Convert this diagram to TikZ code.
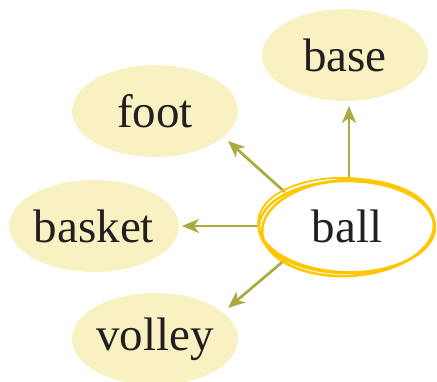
\documentclass[tikz,border=0pt]{standalone}
\usepackage{fontspec}
\setmainfont{Liberation Serif}
\usetikzlibrary{shapes.geometric,arrows.meta}
\definecolor{leaf}{HTML}{F8F2C2}
\definecolor{olive}{HTML}{AAAA3E}
\definecolor{gold}{HTML}{FFC700}
\definecolor{ink}{HTML}{231F20}
\tikzset{
  word/.style={ellipse, fill=leaf, minimum width=166pt, minimum height=92pt, inner sep=0pt,
    font=\fontsize{47}{50}\selectfont, text=ink},
  hub/.style={ellipse, minimum width=176pt, minimum height=96pt, inner sep=0pt,
    font=\fontsize{47}{50}\selectfont, text=ink},
  link/.style={draw=olive, line width=2.7pt, -{Stealth[length=17pt,width=14pt,inset=5pt]}},
  pencil/.style={draw=gold, line width=2.5pt}
}
\begin{document}
\begin{tikzpicture}[x=1pt,y=-1pt]
\useasboundingbox (0,0) rectangle (437,382);
\node[word] (base) at (345,55) {base};
\node[word] (foot) at (155,111) {foot};
\node[word] (basket) at (94,226) {basket};
\node[word] (volley) at (155,339) {volley};
\node[hub] (ball) at (347,226) {ball};
\coordinate (basestart) at (349,179);
\coordinate (baseend) at (349,106);
\coordinate (footend) at (228,141);
\coordinate (basketend) at (182,226);
\coordinate (volleyend) at (228,308);
\draw[link] (basestart) -- (baseend);
\draw[link] (ball.north west) -- (footend);
\draw[link] (ball.west) -- (basketend);
\draw[link] (ball.south west) -- (volleyend);
\draw[pencil] (347,227) ellipse [x radius=88, y radius=46];
\draw[pencil, rotate around={3:(347,226)}] (348,228) ellipse [x radius=86, y radius=48];
\draw[pencil, line width=1.8pt, rotate around={-2:(347,226)}] (346,225) ellipse [x radius=88, y radius=47];
\end{tikzpicture}
\end{document}
